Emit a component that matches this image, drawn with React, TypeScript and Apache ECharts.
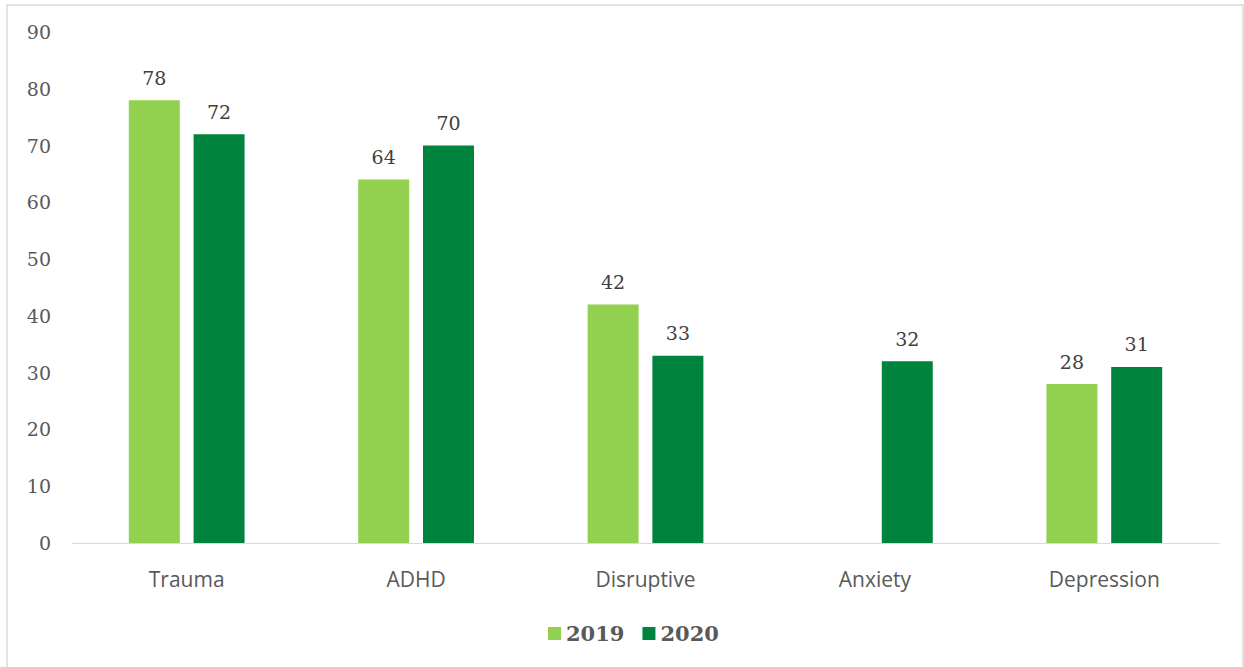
import React, { useEffect, useRef } from "react";
import * as echarts from "echarts";

const categories = ["Trauma", "ADHD", "Disruptive", "Anxiety", "Depression"];
const values2019: (number | null)[] = [78, 64, 42, null, 28];
const values2020: number[] = [72, 70, 33, 32, 31];
const seriesNames = ["2019", "2020"];

export default function App() {
  const ref = useRef<HTMLDivElement>(null);
  useEffect(() => {
    document.body.style.margin = "0";
    const chart = echarts.init(ref.current!, null, { renderer: "svg" });
    const serif = "'DejaVu Serif', 'Liberation Serif', serif";
    const sans = "'Open Sans', 'Noto Sans', sans-serif";
    const label = {
      show: true,
      position: "top",
      distance: 13,
      fontFamily: serif,
      fontSize: 19,
      color: "#404040",
    };
    chart.setOption({
      animation: false,
      backgroundColor: "#ffffff",
      graphic: [
        {
          type: "rect",
          shape: { x: 7, y: 5, width: 1236, height: 700 },
          style: { fill: "none", stroke: "#d9d9d9", lineWidth: 1.5 },
          silent: true,
        },
      ],
      grid: { left: 72, right: 25, top: 32, bottom: 124, containLabel: false },
      legend: {
        data: seriesNames,
        left: 543,
        top: 618,
        icon: "rect",
        itemWidth: 13,
        itemHeight: 13,
        itemGap: 18,
        textStyle: { fontFamily: serif, fontWeight: "bold", fontSize: 21, color: "#595959" },
      },
      xAxis: {
        type: "category",
        data: categories,
        axisLine: { lineStyle: { color: "#d9d9d9", width: 1 } },
        axisTick: { show: false },
        axisLabel: { fontFamily: sans, fontSize: 21, color: "#595959", margin: 25 },
      },
      yAxis: {
        type: "value",
        min: 0,
        max: 90,
        interval: 10,
        splitLine: { show: false },
        axisLine: { show: false },
        axisTick: { show: false },
        axisLabel: { fontFamily: serif, fontSize: 19, color: "#595959", margin: 21 },
      },
      series: [
        {
          name: seriesNames[0],
          type: "bar",
          data: values2019,
          barWidth: 51,
          barGap: "27%",
          itemStyle: { color: "#92d050" },
          label,
        },
        {
          name: seriesNames[1],
          type: "bar",
          data: values2020,
          barWidth: 51,
          barGap: "27%",
          itemStyle: { color: "#00843d" },
          label,
        },
      ],
    });
    return () => chart.dispose();
  }, []);
  return (
    <div
      ref={ref}
      style={{ position: "fixed", left: 0, top: 0, width: 1244, height: 667 }}
    />
  );
}
